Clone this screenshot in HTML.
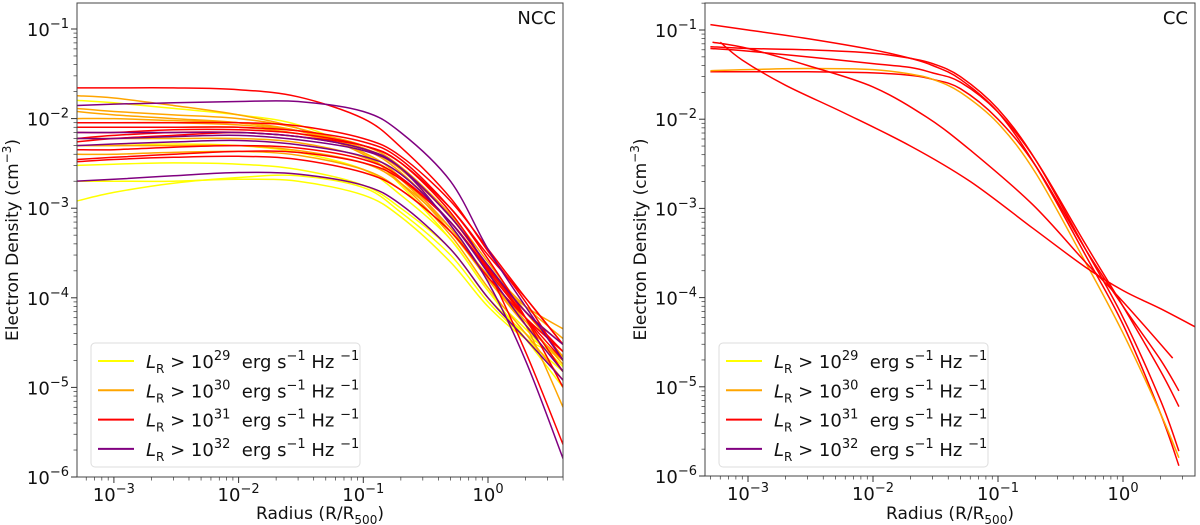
<!DOCTYPE html>
<html><head><meta charset="utf-8"><style>
html,body{margin:0;padding:0;background:#fff;}
svg{display:block;font-family:"DejaVu Sans","Liberation Sans",sans-serif;}
</style></head><body>
<svg id="fig" width="1200" height="525" viewBox="0 0 1200 525" xmlns="http://www.w3.org/2000/svg"></svg>
<script>
// ---- NCC panel data (density in units of 1e-3 cm^-3) ----
const nccRadii = [0.0005,0.001,0.003,0.01,0.03,0.1,0.2,0.5,1,2,4];
const nccColors = ['yellow','yellow','yellow','yellow','yellow',
 'orange','orange','orange','orange','orange','orange','orange','orange','orange',
 'red','red','red','red','red','red','red','red','red',
 'purple','purple','purple','purple','purple'];
const nccY1=[1.2,1.5,1.9,2.2,2.3,1.7,0.9,0.3,0.09,0.035,0.015];
const nccY2=[2.0,2.0,2.0,2.1,2.0,1.4,0.8,0.25,0.08,0.035,0.022];
const nccY3=[3,3.1,3.2,3.1,2.7,1.8,1.0,0.35,0.1,0.04,0.02];
const nccY4=[16,15,13,11,8.5,4.2,1.8,0.45,0.12,0.035,0.01];
const nccY5=[5,5,5.2,5,4.2,2.7,1.4,0.45,0.12,0.045,0.017];
const nccO1=[18,17,14,11,7.8,4,1.9,0.5,0.13,0.04,0.012];
const nccO2=[10,10,9.5,9,7.3,4.2,2.2,0.6,0.17,0.05,0.02];
const nccO3=[13,12,11,10,7.8,4.6,2.5,0.7,0.2,0.07,0.03];
const nccO4=[6,6,6,6,5.4,3.7,2.1,0.55,0.16,0.05,0.02];
const nccO5=[8,8,8,8,6.8,4.6,2.7,0.8,0.22,0.08,0.035];
const nccO6=[4,4,4.2,4.3,3.9,2.7,1.6,0.55,0.18,0.08,0.045];
const nccO7=[9,9,9,8.5,7.3,5,2.9,0.85,0.25,0.07,0.022];
const nccO8=[5,5,5,5,4.4,3.2,1.9,0.6,0.17,0.055,0.018];
const nccO9=[12,11,10,9,7.3,4.7,2.8,0.8,0.22,0.05,0.006];
const nccR1=[22,22,22,21,17.5,10,4.8,1.3,0.33,0.09,0.02];
const nccR2=[3.3,3.5,3.7,3.8,3.5,2.5,1.6,0.55,0.17,0.06,0.025];
const nccR3=[6,6.5,7,7,6.3,4.6,2.8,0.8,0.22,0.06,0.015];
const nccR4=[7,7,7.5,7.5,6.8,5,3.2,1.0,0.3,0.1,0.03];
const nccR5=[4.5,4.5,4.8,5,4.7,3.5,2.2,0.7,0.2,0.06,0.02];
const nccR6=[9,9,9,9,8.3,6,3.8,1.2,0.35,0.1,0.03];
const nccR7=[5.5,6,6.5,7,6.3,5,3.2,0.9,0.2,0.025,0.0023];
const nccR8=[3.5,3.7,4,4.3,4.2,3.2,2.1,0.7,0.21,0.07,0.025];
const nccR9=[8,8,8,8,7.3,5.5,3.5,1.0,0.27,0.06,0.01];
const nccP1=[14,14.5,15,15.5,15.5,12,7,2.0,0.35,0.08,0.02];
const nccP2=[2,2.1,2.3,2.5,2.4,1.8,1.1,0.35,0.1,0.035,0.012];
const nccP3=[7,7,7,7,6.3,4.6,2.8,0.65,0.15,0.02,0.0016];
const nccP4=[6,6,6.3,6.5,5.8,4.4,2.8,0.8,0.23,0.07,0.03];
const nccP5=[5,5.2,5.5,5.7,5.1,3.8,2.4,0.7,0.19,0.05,0.015];
const nccSeries=[nccY1,nccY2,nccY3,nccY4,nccY5,nccO1,nccO2,nccO3,nccO4,nccO5,nccO6,nccO7,nccO8,nccO9,
 nccR1,nccR2,nccR3,nccR4,nccR5,nccR6,nccR7,nccR8,nccR9,nccP1,nccP2,nccP3,nccP4,nccP5];

// ---- CC panel data ----
const ccRadii = [0.0005,0.001,0.003,0.01,0.02,0.03,0.05,0.1,0.2,0.5,1,2,2.8];
const ccC1=[115,100,80,60,48,40,28,12,3,0.3,0.05,0.005,0.0013];
const ccC2=[65,62,60,55,48,42,30,13,3.5,0.35,0.06,0.007,0.0019];
const ccC3=[62,58,50,42,38,33,26,12,3.5,0.4,0.08,0.015,0.006];
const ccC4=[34,34,34,33,31,28,22,10,3,0.35,0.08,0.02,0.009];
const ccC5=[35,36,37,36,32,28,20,9,2.5,0.25,0.04,0.005,0.0016];
const ccC6Radii=[0.0006,0.0009,0.002,0.006,0.02,0.06,0.19,0.5,1,2,4];
const ccC6=[73,46,24,11.6,5,2,0.6,0.22,0.12,0.075,0.045];
const ccC7Radii=[0.00052,0.001,0.003,0.01,0.027,0.06,0.19,0.5,1,2.5];
const ccC7=[73,62,40,23,10.5,4.5,1.1,0.25,0.09,0.021];
const ccColors=['red','red','red','red','orange','red','red'];

const svg=document.getElementById('fig');
const NS='http://www.w3.org/2000/svg';
function mk(tag,attrs,parent){const e=document.createElementNS(NS,tag);for(const k in attrs)e.setAttribute(k,attrs[k]);(parent||svg).appendChild(e);return e;}

function makeAxes(p){
  const xs=v=>p.x10+Math.log10(v)*p.dx;
  const ys=v=>p.y1+(-1-Math.log10(v))*p.dy;
  return {xs,ys};
}
function smoothPath(pts){
  let d='M'+pts[0][0].toFixed(1)+','+pts[0][1].toFixed(1);
  for(let i=0;i<pts.length-1;i++){
    const p0=pts[Math.max(0,i-1)],p1=pts[i],p2=pts[i+1],p3=pts[Math.min(pts.length-1,i+2)];
    const c1=[p1[0]+(p2[0]-p0[0])/6,p1[1]+(p2[1]-p0[1])/6];
    const c2=[p2[0]-(p3[0]-p1[0])/6,p2[1]-(p3[1]-p1[1])/6];
    d+='C'+c1[0].toFixed(1)+','+c1[1].toFixed(1)+' '+c2[0].toFixed(1)+','+c2[1].toFixed(1)+' '+p2[0].toFixed(1)+','+p2[1].toFixed(1);
  }
  return d;
}

function drawPanel(p, seriesList, radiiList, colors, title){
  const {xs,ys}=makeAxes(p);
  const g=mk('g',{});
  
  
  const cid='clip'+p.name;
  const cp=mk('clipPath',{id:cid},g);
  mk('rect',{x:p.left,y:p.top,width:p.right-p.left,height:p.bottom-p.top},cp);
  const lines=mk('g',{'clip-path':'url(#'+cid+')'},g);
  seriesList.forEach((s,i)=>{
    const r=radiiList[i];
    const pts=s.map((v,j)=>[xs(r[j]),ys(v*1e-3)]);
    const path=mk('path',{d:smoothPath(pts),fill:'none',stroke:colors[i],'stroke-width':1.5},lines);
    
    
  });
  const fr=mk('rect',{x:p.left,y:p.top,width:p.right-p.left,height:p.bottom-p.top,fill:'none',stroke:'#444','stroke-width':1},g);
  
  
  for(let e=-4;e<=1;e++){
    for(let m=1;m<10;m++){
      const v=m*Math.pow(10,e);const x=xs(v);
      if(x<p.left-0.5||x>p.right+0.5)continue;
      mk('line',{x1:x,x2:x,y1:p.bottom,y2:p.bottom+(m==1?6:3.5),stroke:'#333','stroke-width':m==1?1:0.7},g);
      if(m==1){
        const t=mk('text',{x:x,y:p.bottom+24,'font-size':18,'text-anchor':'middle',fill:'#111'},g);
        
        
        t.innerHTML='10<tspan dy="-8" font-size="13">'+(e<0?'\u2212'+(-e):e)+'</tspan>';
      }
    }
  }
  for(let e=-7;e<=0;e++){
    for(let m=1;m<10;m++){
      const v=m*Math.pow(10,e);const y=ys(v);
      if(y<p.top-0.5||y>p.bottom+0.5)continue;
      mk('line',{x1:p.left,x2:p.left-(m==1?6:3.5),y1:y,y2:y,stroke:'#333','stroke-width':m==1?1:0.7},g);
      if(m==1){
        const t=mk('text',{x:p.left-8,y:y+7,'font-size':18,'text-anchor':'end',fill:'#111'},g);
        
        
        t.innerHTML='10<tspan dy="-8" font-size="13">\u2212'+(-e)+'</tspan>';
      }
    }
  }
  const xt=mk('text',{x:(p.left+p.right)/2,y:519,'font-size':17,'text-anchor':'middle',fill:'#111'},g);
  
  
  xt.innerHTML='Radius (R/R<tspan dy="5" font-size="12">500</tspan><tspan dy="-5">)</tspan>';
  const cy=(p.top+p.bottom)/2;
  const yt=mk('text',{x:p.left-59,y:cy,'font-size':17,'text-anchor':'middle',fill:'#111',transform:'rotate(-90 '+(p.left-59)+' '+cy+')'},g);
  
  
  yt.innerHTML='Electron Density (cm<tspan dy="-7" font-size="12">\u22123</tspan><tspan dy="7">)</tspan>';
  const tt=mk('text',{x:p.right-7,y:p.top+21,'font-size':18,'text-anchor':'end',fill:'#111'},g);
  
  
  tt.textContent=title;
  const lg=mk('g',{},g);
  
  
  const lx=p.left+14;
  mk('rect',{x:lx,y:343,width:269,height:124,rx:4,fill:'#fff','fill-opacity':0.85,stroke:'#ddd'},lg);
  const lc=['yellow','orange','red','purple'], le=['29','30','31','32'];
  lc.forEach((c,i)=>{
    const y=361+i*29.3;
    const en=mk('g',{},lg);
    
    
    mk('line',{x1:lx+7,x2:lx+43,y1:y,y2:y,stroke:c,'stroke-width':2},en);
    const t=mk('text',{x:lx+55,y:y+7,'font-size':18,fill:'#111'},en);
    t.innerHTML='<tspan font-style="italic">L</tspan><tspan dy="5" font-size="12">R</tspan><tspan dy="-5"> &gt; 10</tspan><tspan dy="-8" font-size="13">'+le[i]+'</tspan><tspan dy="8">\u00a0\u00a0erg s</tspan><tspan dy="-8" font-size="13">\u22121</tspan><tspan dy="8"> Hz\u00a0</tspan><tspan dy="-8" font-size="13">\u22121</tspan>';
  });
}

const nccPanel={name:'ncc-panel',left:77,right:563,top:3,bottom:477,x10:488,dx:124.7,y1:29,dy:89.6};
const ccPanel={name:'cc-panel',left:705,right:1195,top:3,bottom:476,x10:1123,dx:125,y1:30,dy:89.2};
drawPanel(nccPanel,nccSeries,nccSeries.map(()=>nccRadii),nccColors,'NCC');
drawPanel(ccPanel,[ccC1,ccC2,ccC3,ccC4,ccC5,ccC6,ccC7],[ccRadii,ccRadii,ccRadii,ccRadii,ccRadii,ccC6Radii,ccC7Radii],ccColors,'CC');
</script>
</body></html>
